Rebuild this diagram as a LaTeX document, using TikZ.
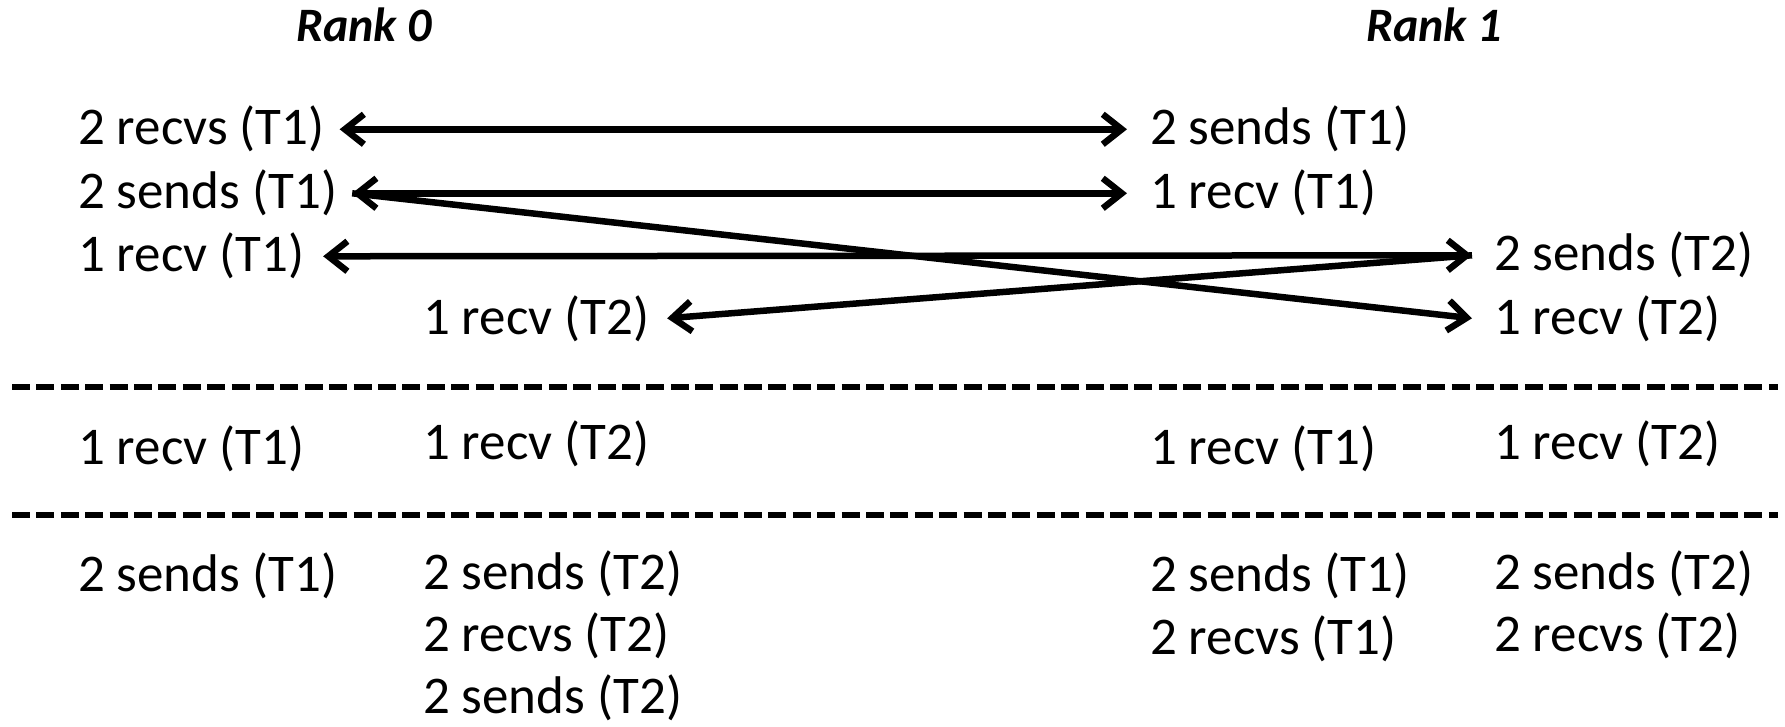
\documentclass[tikz,border=0pt]{standalone}
\usepackage{fontspec}
\setmainfont{Carlito}
\usetikzlibrary{arrows.meta,calc}
\tikzset{mybarb/.tip={Straight Barb[length=19pt,width=30pt,line width=6.5pt]}}
\begin{document}
\begin{tikzpicture}[x=1pt,y=-1pt,
  lbl/.style={anchor=base west,inner sep=0pt,outer sep=0pt,font=\fontsize{53}{60}\selectfont},
  ttl/.style={anchor=base,inner sep=0pt,font=\fontsize{48}{56}\selectfont\bfseries\itshape},
  arr/.style={line width=6.5pt,{mybarb}-{mybarb}},
  arrone/.style={line width=6.5pt,-{mybarb}},
  sepline/.style={line width=6pt,dash pattern=on 18pt off 6.4pt}]
\useasboundingbox (0,0) rectangle (1785,727);

% titles
\node[ttl] (r0) at (364,42) {Rank 0};
\node[ttl] (r1) at (1434,42) {Rank 1};

% top block
\node[lbl] (a1) at (78,145) {2 recvs (T1)};
\node[lbl] (a2) at (78,209) {2 sends (T1)};
\node[lbl] (a3) at (78,272) {1 recv (T1)};
\node[lbl] (b4) at (423,334) {1 recv (T2)};
\node[lbl] (c1) at (1150,145) {2 sends (T1)};
\node[lbl] (c2) at (1150,209) {1 recv (T1)};
\node[lbl] (d3) at (1494,271) {2 sends (T2)};
\node[lbl] (d4) at (1494,334) {1 recv (T2)};

% arrow end points
\coordinate (pa1) at ($(a1.east)+(15,0)$);
\coordinate (pa2) at ($(a2.east)+(15,0)$);
\coordinate (pa3) at ($(a3.east)+(19,0)$);
\coordinate (pb4) at ($(b4.east)+(18,0)$);
\coordinate (pc1) at ($(c1.west)+(-23,0)$);
\coordinate (pc2) at ($(c2.west)+(-23,0)$);
\coordinate (pd3) at ($(d3.west)+(-22,0)$);
\coordinate (pd4) at ($(d4.west)+(-22,0)$);

\draw[arr] (pa1) -- (pc1);
\draw[arr] (pa2) -- (pc2);
\draw[arr] (pa3) -- (pd3);
\draw[arrone] (pa2) -- (pd4);
\draw[arrone] (pd3) -- (pb4);

% separators
\coordinate (s1l) at (12,387);
\coordinate (s1r) at (1778,387);
\coordinate (s2l) at (12,515);
\coordinate (s2r) at (1778,515);
\draw[sepline] (s1l) -- (s1r);
\draw[sepline] (s2l) -- (s2r);

% middle block
\node[lbl] (a5) at (78,464) {1 recv (T1)};
\node[lbl] (b5) at (423,459) {1 recv (T2)};
\node[lbl] (c5) at (1150,464) {1 recv (T1)};
\node[lbl] (d5) at (1494,459) {1 recv (T2)};

% bottom block
\node[lbl] (a6) at (78,591) {2 sends (T1)};
\node[lbl] (b6) at (423,589) {2 sends (T2)};
\node[lbl] (b7) at (423,651) {2 recvs (T2)};
\node[lbl] (b8) at (423,713) {2 sends (T2)};
\node[lbl] (c6) at (1150,591) {2 sends (T1)};
\node[lbl] (c7) at (1150,654) {2 recvs (T1)};
\node[lbl] (d6) at (1494,589) {2 sends (T2)};
\node[lbl] (d7) at (1494,651) {2 recvs (T2)};
\end{tikzpicture}
\end{document}
